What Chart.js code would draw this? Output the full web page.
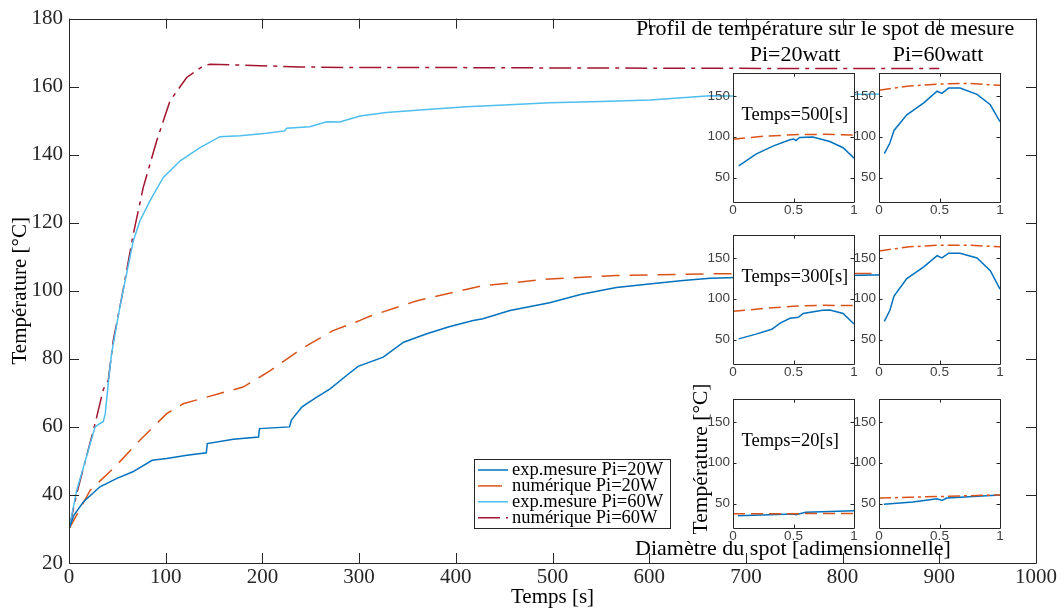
<!DOCTYPE html>
<html>
<head>
<meta charset="utf-8">
<script src="https://cdn.jsdelivr.net/npm/chart.js@4/dist/chart.umd.min.js"></script>
<style>
  body { margin: 0; background: #fff; }
  #wrap { position: relative; width: 1064px; height: 612px; }
  canvas { position: absolute; }
</style>
</head>
<body>
<div id="wrap">
  <canvas id="main" width="1064" height="612" style="left:0;top:0"></canvas>
  <canvas id="in500_20" width="159" height="156"></canvas>
  <canvas id="in500_60" width="159" height="156"></canvas>
  <canvas id="in300_20" width="159" height="156"></canvas>
  <canvas id="in300_60" width="159" height="156"></canvas>
  <canvas id="in20_20" width="159" height="156"></canvas>
  <canvas id="in20_60" width="159" height="156"></canvas>
</div>
<script>
// main chart: temperature vs time
const exp20T = [0, 5, 15, 32, 49, 66, 86, 101, 122, 142, 143, 170, 196, 197, 228, 230, 241, 255, 270, 287, 299, 325, 346, 370, 394, 418, 428, 456, 497, 530, 566, 600, 635, 663, 700, 760, 820, 900];
const exp20V = [30, 34, 38, 42.4, 44.8, 46.8, 50.2, 50.7, 51.7, 52.4, 55.1, 56.4, 57, 59.5, 60, 62, 65.9, 68.5, 71.2, 75.1, 77.8, 80.5, 84.9, 87.4, 89.5, 91.3, 91.8, 94.2, 96.5, 99, 101, 102, 103, 103.7, 104, 104.3, 104.6, 105];

const num20T = [0, 22, 48, 73, 101, 118, 153, 180, 207, 239, 273, 301, 311, 360, 428, 497, 566, 663, 750, 900];
const num20V = [30, 41.4, 48.4, 56, 63.9, 66.8, 69.6, 71.7, 76.3, 82.7, 88.3, 91.3, 92.5, 97.1, 101.5, 103.5, 104.5, 105, 105.1, 105.1];

const exp60T = [0, 8, 15, 22, 27, 32, 35.5, 37.5, 40.6, 44, 51, 54.5, 66.5, 73.4, 83.8, 97.5, 115, 135.5, 156, 177, 204, 223, 225, 249, 266.5, 280, 301, 328, 370, 411, 450, 497, 550, 601, 663, 700, 760, 820, 900];
const exp60V = [30, 41.4, 48.2, 55.1, 60, 61, 61.6, 63.9, 72.7, 81.5, 92.7, 98, 114.7, 120.6, 126.5, 133.3, 138.2, 142.1, 145.3, 145.6, 146.3, 147, 147.8, 148.2, 149.7, 149.6, 151.4, 152.4, 153.3, 154.1, 154.6, 155.3, 155.6, 156.1, 157.3, 157.2, 157.5, 157.8, 158];

const num60T = [0, 8, 18, 27, 35.5, 40.6, 45.8, 54.5, 66.5, 76.8, 90.7, 104.4, 121.7, 138.9, 145.8, 170, 239, 301, 400, 500, 663, 800, 900];
const num60V = [30, 40.4, 51.2, 61, 71, 73.7, 85.4, 98, 116.7, 130.4, 144.1, 155.8, 162.7, 166.1, 166.6, 166.4, 165.8, 165.6, 165.6, 165.5, 165.4, 165.3, 165.3];

const legendLabels = ['exp.mesure Pi=20W', 'numérique Pi=20W', 'exp.mesure Pi=60W', 'numérique Pi=60W'];

// insets: temperature profile along the spot diameter
const insetYTicks = [50, 100, 150];
const numD = [0, 0.25, 0.5, 0.75, 1];

const exp500_20D = [0.047, 0.19, 0.33, 0.47, 0.50, 0.52, 0.55, 0.66, 0.80, 0.91, 1.0];
const exp500_20V = [64.2, 78.8, 88.5, 96.2, 97.3, 95.4, 99.2, 99.6, 94.2, 86.5, 73.8];
const num500_20V = [97, 100.5, 102.5, 103, 102];

const exp500_60D = [0.044, 0.09, 0.124, 0.23, 0.37, 0.48, 0.52, 0.575, 0.67, 0.81, 0.92, 1.0];
const exp500_60V = [79.2, 92.3, 107.7, 126.9, 141.5, 155.8, 153.1, 159.6, 159.6, 151.9, 139.2, 118.5];
const num500_60V = [156.9, 162.3, 164.6, 165.4, 163];

const exp300_20D = [0.047, 0.19, 0.32, 0.39, 0.47, 0.51, 0.54, 0.58, 0.74, 0.80, 0.91, 1.0];
const exp300_20V = [50.8, 56.6, 62.5, 70.2, 76.1, 76.8, 77.2, 81.9, 85.8, 86.2, 81.9, 69.1];
const num300_20V = [84.6, 88, 90.9, 92, 91.6];

const exp300_60D = [0.044, 0.09, 0.124, 0.23, 0.37, 0.48, 0.52, 0.575, 0.67, 0.81, 0.92, 1.0];
const exp300_60V = [72.2, 85.8, 103.3, 124.7, 139.1, 152.7, 150, 155.8, 155.8, 150, 134.4, 111.9];
const num300_60V = [158.6, 163.6, 165.6, 165.6, 163.6];

const exp20_20D = [0.04, 0.3, 0.5, 0.52, 0.6, 1.0];
const exp20_20V = [35.1, 36.3, 37.1, 36.3, 39.4, 41];
const num20_20V = [37.5, 37.5, 37.6, 37.7, 37.8];

const exp20_60D = [0.04, 0.28, 0.48, 0.52, 0.56, 1.0];
const exp20_60V = [49.2, 52, 55.9, 53.9, 56.7, 60.6];
const num20_60V = [56.7, 57.7, 58.6, 59.6, 60.6];

const SERIF = 'Liberation Serif';
const SANS = 'Liberation Sans';
const AX = '#262626';
const C_EXP20 = '#0072BD', C_NUM20 = '#D95319', C_EXP60 = '#4DBEEE', C_NUM60 = '#A2142F';
const DASH = [18, 10];
const DASHDOT = [22, 6, 4, 6];

const pts = (xs, ys) => xs.map((x, i) => ({x: x, y: ys[i]}));
const plain = v => String(v);

// box round the plot area with ticks pointing inwards (matlab style)
const boxTicks = {
    id: 'boxTicks',
    afterDraw(chart, args, opts) {
        const {ctx, chartArea: a, scales} = chart;
        const r = v => Math.round(v) + 0.5;
        ctx.save();
        ctx.strokeStyle = AX;
        ctx.lineWidth = 1;
        ctx.beginPath();
        ctx.rect(r(a.left), r(a.top), Math.round(a.right) - Math.round(a.left), Math.round(a.bottom) - Math.round(a.top));
        for (const t of scales.x.ticks) {
            const px = r(scales.x.getPixelForValue(t.value));
            ctx.moveTo(px, a.bottom); ctx.lineTo(px, a.bottom - opts.len);
            ctx.moveTo(px, a.top); ctx.lineTo(px, a.top + opts.len);
        }
        for (const t of scales.y.ticks) {
            const py = r(scales.y.getPixelForValue(t.value));
            ctx.moveTo(a.left, py); ctx.lineTo(a.left + opts.len, py);
            ctx.moveTo(a.right, py); ctx.lineTo(a.right - opts.len, py);
        }
        ctx.stroke();
        ctx.restore();
    }
};

const whiteArea = {
    id: 'whiteArea',
    beforeDraw(chart) {
        const a = chart.chartArea;
        chart.ctx.save();
        chart.ctx.fillStyle = '#fff';
        chart.ctx.fillRect(a.left, a.top, a.width, a.height);
        chart.ctx.restore();
    }
};

// texts of the main figure and the legend
const mainTexts = {
    id: 'mainTexts',
    afterDraw(chart) {
        const ctx = chart.ctx;
        ctx.save();
        ctx.fillStyle = '#000';
        ctx.textBaseline = 'alphabetic';
        ctx.font = '22px "' + SERIF + '"';
        ctx.textAlign = 'left';
        ctx.fillText('Profil de température sur le spot de mesure', 636, 35);
        ctx.textAlign = 'center';
        ctx.fillText('Pi=20watt', 795, 61);
        ctx.fillText('Pi=60watt', 938, 61);
        ctx.textAlign = 'left';
        ctx.fillText('Diamètre du spot [adimensionnelle]', 635, 555);
        ctx.save();
        ctx.translate(701, 459);
        ctx.rotate(-Math.PI / 2);
        ctx.textAlign = 'center';
        ctx.textBaseline = 'middle';
        ctx.font = '21.5px "' + SERIF + '"';
        ctx.fillText('Température [°C]', 0, 0);
        ctx.restore();

        // legend
        ctx.fillStyle = '#fff';
        ctx.strokeStyle = AX;
        ctx.lineWidth = 1;
        ctx.fillRect(474.5, 459.5, 196, 69);
        ctx.strokeRect(474.5, 459.5, 196, 69);
        const cols = [C_EXP20, C_NUM20, C_EXP60, C_NUM60];
        const dashes = [[], [24, 40], [], [22, 6, 4, 40]];
        ctx.font = '18.5px "' + SERIF + '"';
        ctx.textAlign = 'left';
        ctx.textBaseline = 'middle';
        legendLabels.forEach((lab, i) => {
            const y = 470 + i * 15.9;
            ctx.strokeStyle = cols[i];
            ctx.lineWidth = 1.5;
            ctx.setLineDash(dashes[i]);
            ctx.beginPath();
            ctx.moveTo(478, y); ctx.lineTo(508, y);
            ctx.stroke();
            ctx.setLineDash([]);
            ctx.fillStyle = '#000';
            ctx.fillText(lab, 512, y);
        });
        ctx.restore();
    }
};

new Chart(document.getElementById('main'), {
    type: 'line',
    data: {
        datasets: [
            {label: legendLabels[0], data: pts(exp20T, exp20V), borderColor: C_EXP20, borderWidth: 1.5},
            {label: legendLabels[1], data: pts(num20T, num20V), borderColor: C_NUM20, borderWidth: 1.5, borderDash: DASH},
            {label: legendLabels[2], data: pts(exp60T, exp60V), borderColor: C_EXP60, borderWidth: 1.5},
            {label: legendLabels[3], data: pts(num60T, num60V), borderColor: C_NUM60, borderWidth: 1.5, borderDash: DASHDOT}
        ]
    },
    options: {
        responsive: false,
        animation: false,
        devicePixelRatio: 1,
        elements: {point: {radius: 0}, line: {tension: 0}},
        layout: {padding: {left: 0, right: 28, top: 18, bottom: 0}},
        plugins: {legend: {display: false}, tooltip: {enabled: false}, boxTicks: {len: 10}},
        scales: {
            x: {
                type: 'linear', min: 0, max: 1000,
                ticks: {stepSize: 100, color: AX, font: {family: SERIF, size: 21}, padding: 2, maxRotation: 0, callback: plain},
                grid: {display: false, drawTicks: false},
                border: {display: false},
                title: {display: true, text: 'Temps [s]', color: '#000', font: {family: SERIF, size: 21}, padding: {top: 0, bottom: 2}},
                afterFit(s) { s.height = 49; }
            },
            y: {
                min: 20, max: 180,
                ticks: {stepSize: 20, color: AX, font: {family: SERIF, size: 21}, padding: 6, callback: plain},
                grid: {display: false, drawTicks: false},
                border: {display: false},
                title: {display: true, text: 'Température [°C]', color: '#000', font: {family: SERIF, size: 21}, padding: {top: 8, bottom: 0}},
                afterFit(s) { s.width = 69; }
            }
        }
    },
    plugins: [boxTicks, mainTexts]
});

function makeInset(id, left, top, expD, expV, numV, numDash, label) {
    const cv = document.getElementById(id);
    cv.style.left = (left - 30) + 'px';
    cv.style.top = (top - 5) + 'px';
    const texts = {
        id: 'insetText',
        afterDraw(chart) {
            if (!label) return;
            const ctx = chart.ctx;
            ctx.save();
            ctx.fillStyle = '#000';
            ctx.font = '18.5px "' + SERIF + '"';
            ctx.textAlign = 'left';
            ctx.textBaseline = 'alphabetic';
            ctx.fillText(label, chart.chartArea.left + 8.5, chart.chartArea.top + 47);
            ctx.restore();
        }
    };
    new Chart(cv, {
        type: 'line',
        data: {
            datasets: [
                {data: pts(numD, numV), borderColor: C_NUM20, borderWidth: 1.5, borderDash: numDash},
                {data: pts(expD, expV), borderColor: C_EXP20, borderWidth: 1.5}
            ]
        },
        options: {
            responsive: false,
            animation: false,
            devicePixelRatio: 1,
            elements: {point: {radius: 0}, line: {tension: 0}},
            layout: {padding: {left: 0, right: 8, top: 5, bottom: 0}},
            plugins: {legend: {display: false}, tooltip: {enabled: false}, boxTicks: {len: 3.5}},
            scales: {
                x: {
                    type: 'linear', min: 0, max: 1,
                    ticks: {stepSize: 0.5, color: '#404040', font: {family: SANS, size: 13.5}, padding: 0, maxRotation: 0, callback: plain},
                    grid: {display: false, drawTicks: false},
                    border: {display: false},
                    afterFit(s) { s.height = 16; }
                },
                y: {
                    min: 20, max: 178,
                    afterBuildTicks(s) { s.ticks = insetYTicks.map(v => ({value: v})); },
                    ticks: {color: '#404040', font: {family: SANS, size: 13.5}, padding: 3, callback: plain},
                    grid: {display: false, drawTicks: false},
                    border: {display: false},
                    afterFit(s) { s.width = 30; }
                }
            }
        },
        plugins: [whiteArea, boxTicks, texts]
    });
}

const colLeft = [733, 879];
const rowTop = [67, 229, 393];
makeInset('in500_20', colLeft[0], rowTop[0], exp500_20D, exp500_20V, num500_20V, [12, 6], 'Temps=500[s]');
makeInset('in500_60', colLeft[1], rowTop[0], exp500_60D, exp500_60V, num500_60V, [12, 4, 3, 4], '');
makeInset('in300_20', colLeft[0], rowTop[1], exp300_20D, exp300_20V, num300_20V, [12, 6], 'Temps=300[s]');
makeInset('in300_60', colLeft[1], rowTop[1], exp300_60D, exp300_60V, num300_60V, [12, 4, 3, 4], '');
makeInset('in20_20', colLeft[0], rowTop[2], exp20_20D, exp20_20V, num20_20V, [12, 6], 'Temps=20[s]');
makeInset('in20_60', colLeft[1], rowTop[2], exp20_60D, exp20_60V, num20_60V, [12, 4, 3, 4], '');
</script>
</body>
</html>
